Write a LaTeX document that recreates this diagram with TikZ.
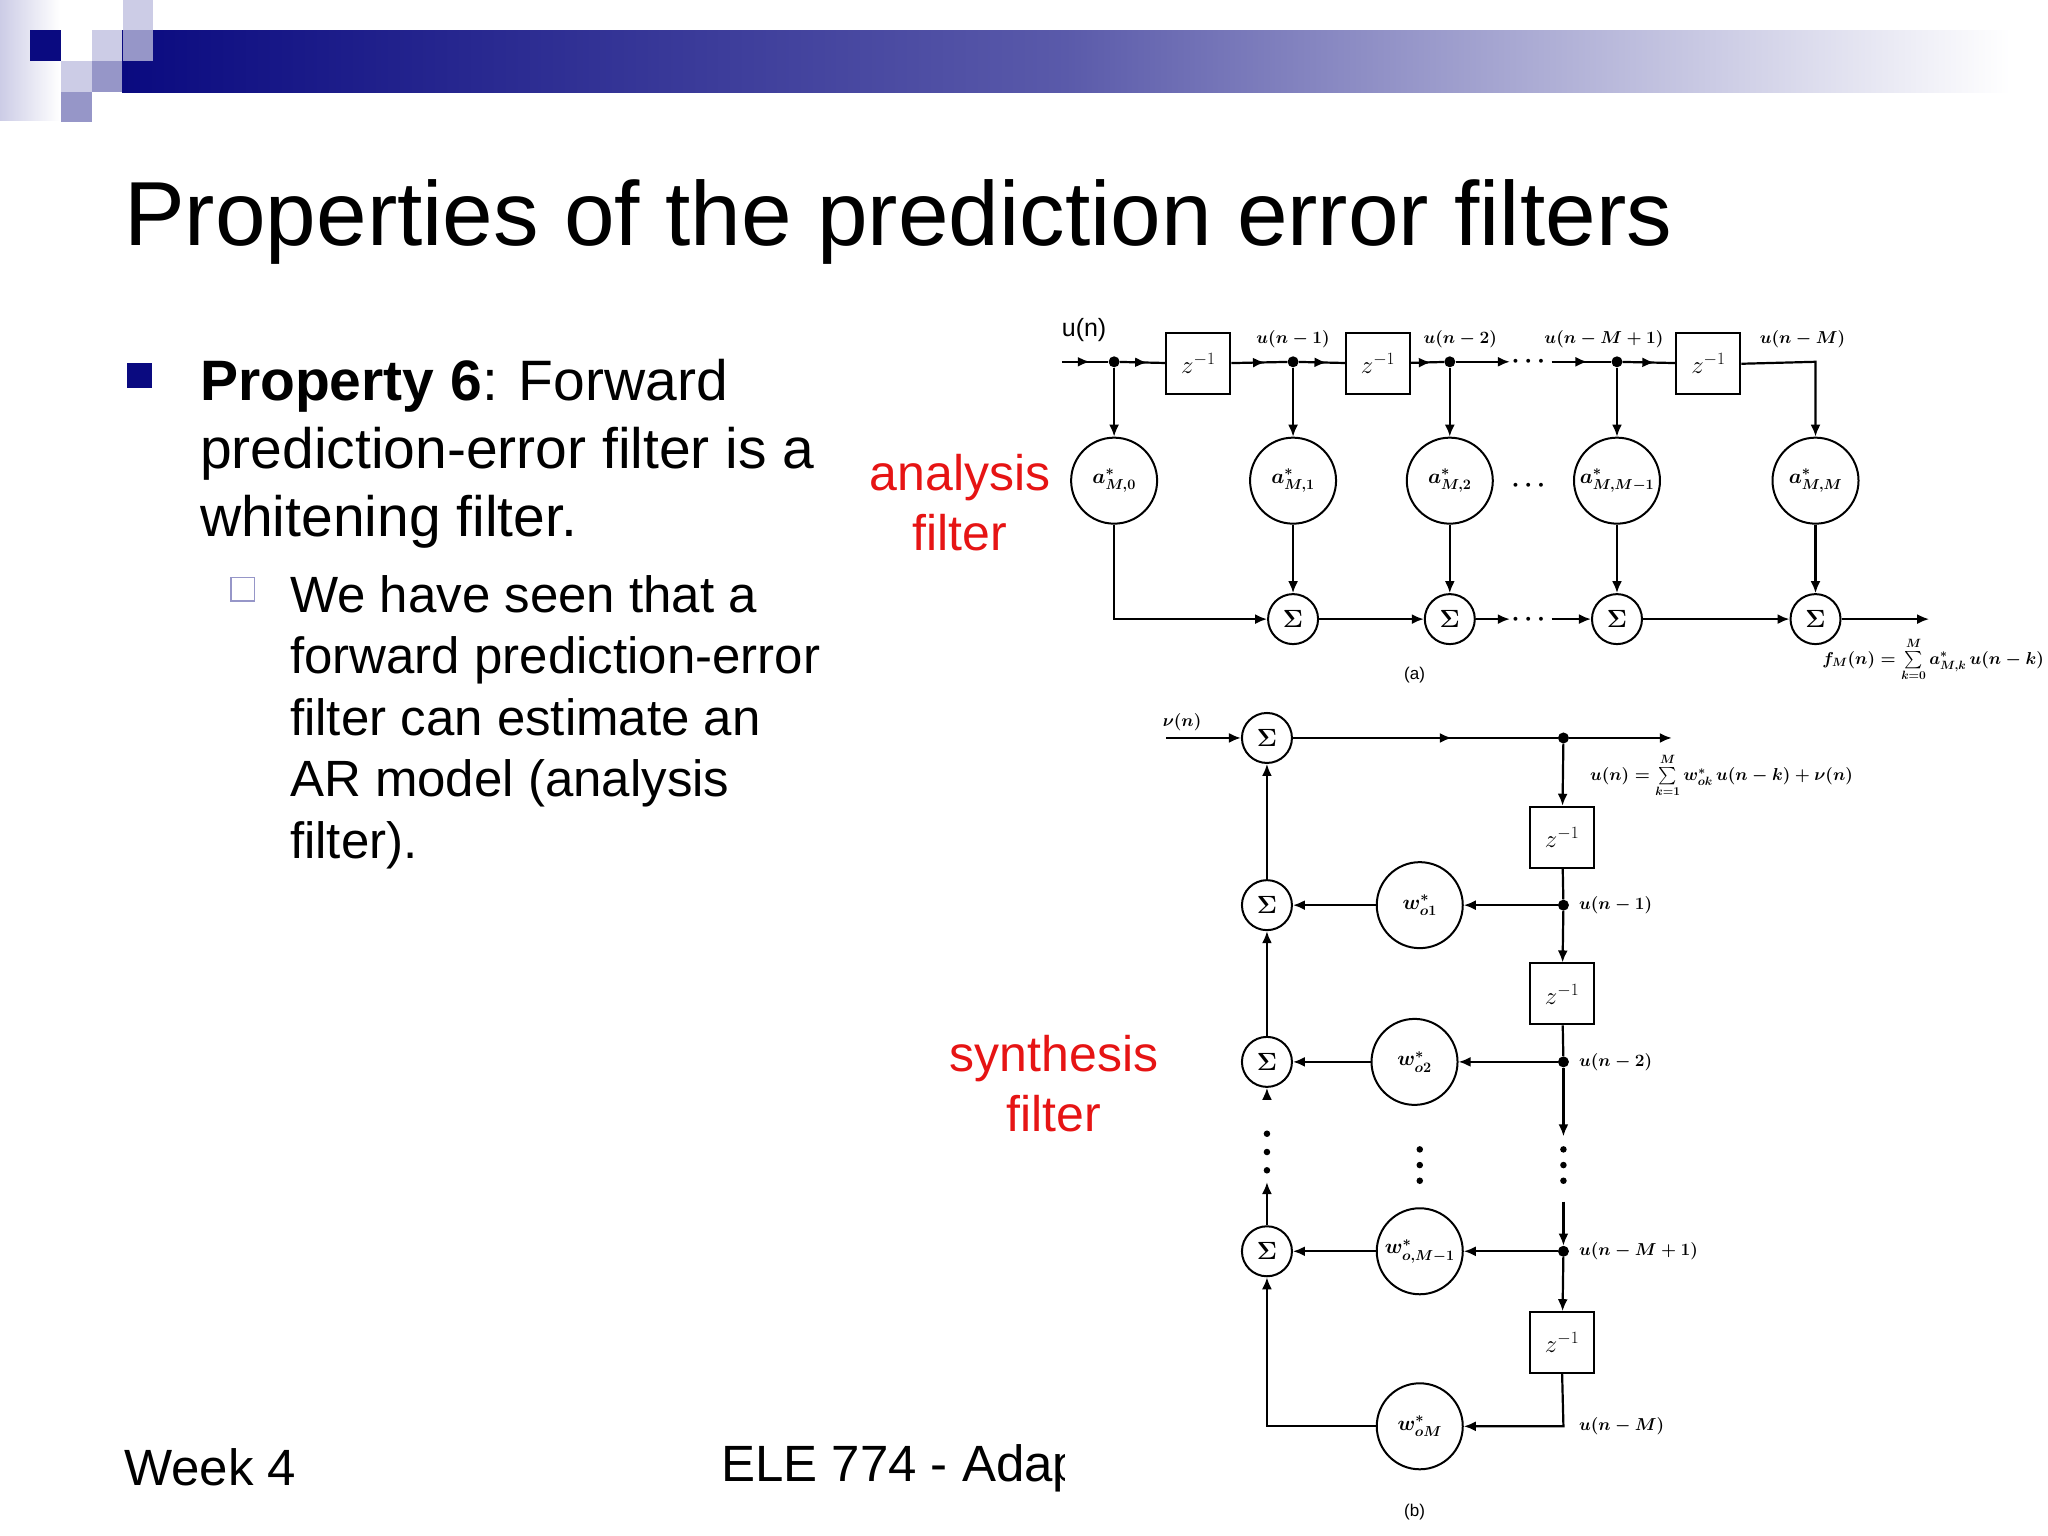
\documentclass[tikz,border=0pt]{standalone}
\usepackage{fontspec}
\usepackage{amsmath}
\setmainfont{Liberation Sans}
\usetikzlibrary{arrows.meta,decorations.markings}
\definecolor{navy}{RGB}{10,10,128}
\definecolor{navymid}{RGB}{90,90,170}
\definecolor{lav}{RGB}{204,204,230}
\definecolor{lavm}{RGB}{150,150,200}
\definecolor{redlab}{RGB}{230,20,20}
\tikzset{
 arr/.style={-{Latex[length=12pt,width=10pt]},line width=2.2pt},
 ln/.style={line width=2.2pt},
 midarr/.style={line width=2.2pt,postaction={decorate},decoration={markings,mark=at position 0.6 with {\arrow{Latex[length=12pt,width=10pt]}}}},
 dotn/.style={circle,fill,inner sep=0pt,minimum size=11pt},
 delay/.style={draw,line width=2pt,minimum width=64pt,minimum height=61pt,font=\fontsize{25}{25}\selectfont},
 coef/.style={draw,circle,line width=2pt,minimum size=86pt,inner sep=0pt,font=\fontsize{20}{20}\selectfont},
 sumn/.style={draw,circle,line width=2pt,minimum size=50pt,inner sep=0pt,font=\fontsize{38}{38}\selectfont},
 lab/.style={font=\fontsize{19}{19}\selectfont,inner sep=1pt},
 redl/.style={text=redlab,align=center,font=\fontsize{50}{60}\selectfont},
 body/.style={anchor=base west,inner sep=0pt,font=\fontsize{57}{57}\selectfont},
 sub/.style={anchor=base west,inner sep=0pt,font=\fontsize{51}{51}\selectfont},
}
\begin{document}
\begin{tikzpicture}[x=1.306pt,y=-1.306pt]
\useasboundingbox (0,0) rectangle (1568,1176);
% banner (original pixel units)
\begin{scope}[x=1pt,y=-1pt]
 \shade[left color=lav,right color=white] (0,0) rectangle (60,120);
 \shade[left color=navy,right color=white,middle color=navymid] (122,30) rectangle (2010,92);
 \fill[navy] (30,30) rectangle (61,61);
 \fill[lav] (123,0) rectangle (153,30);
 \fill[lav] (92,30) rectangle (122,61);
 \fill[lavm] (123,30) rectangle (153,61);
 \fill[lav] (61,61) rectangle (92,92);
 \fill[lavm] (92,61) rectangle (122,92);
 \fill[lavm] (61,92) rectangle (92,122);
\end{scope}
% title
\node[anchor=base west,inner sep=0pt,font=\fontsize{91}{91}\selectfont] (title) at (95,188) {Properties of the prediction error filters};
% bullets
\fill[navy] (97,278) rectangle (116,297);
\node[body] (p1) at (153,307) {\textbf{Property 6}: Forward};
\node[body] (p2) at (153,359) {prediction-error filter is a};
\node[body] (p3) at (153,411) {whitening filter.};
\draw[lavm,line width=1.5pt] (177,442) rectangle (195,460);
\node[sub] (q1) at (222,469) {We have seen that a};
\node[sub] (q2) at (222,516) {forward prediction-error};
\node[sub] (q3) at (222,563) {filter can estimate an};
\node[sub] (q4) at (222,610) {AR model (analysis};
\node[sub] (q5) at (222,657) {filter).};
% footer
\node[anchor=base west,inner sep=0pt,font=\fontsize{51}{51}\selectfont] (week) at (95,1137) {Week 4};
\begin{scope}
 \clip (500,1080) rectangle (815,1176);
 \node[anchor=base west,inner sep=0pt,font=\fontsize{51}{51}\selectfont] (ele) at (552,1134) {ELE 774 - Adaptive};
\end{scope}
% red labels
\node[redl] (an) at (735,385) {analysis\\filter};
\node[redl] (sy) at (807,830) {synthesis\\filter};
% ---------- (a)
\node[font=\fontsize{25}{25}\selectfont\rmfamily,inner sep=0pt] (un) at (830,253) {u(n)};
\coordinate (in) at (813,277);
\node[dotn] (d0) at (853,277) {};
\node[delay] (z1) at (917.5,278.5) {$z^{-1}$};
\node[dotn] (d1) at (990,277) {};
\node[delay] (z2) at (1055,278.5) {$z^{-1}$};
\node[dotn] (d2) at (1110,277) {};
\coordinate (e2) at (1156,277);
\node[font=\fontsize{28}{28}\selectfont] (dd1) at (1172,277) {$\boldsymbol{\cdots}$};
\coordinate (s3) at (1188,277);
\node[dotn] (d3) at (1238,277) {};
\node[delay] (z3) at (1308,278.5) {$z^{-1}$};
\coordinate (cr) at (1390,277);
\draw[midarr] (in) -- (d0);
\draw[midarr] (d0) -- (z1);
\draw[midarr] (z1) -- (d1);
\draw[midarr] (d1) -- (z2);
\draw[midarr] (z2) -- (d2);
\draw[arr] (d2) -- (e2);
\draw[midarr] (s3) -- (d3);
\draw[midarr] (d3) -- (z3);
\node[lab] at (990,260) {$\boldsymbol{u(n-1)}$};
\node[lab] at (1118,260) {$\boldsymbol{u(n-2)}$};
\node[lab] at (1228,260) {$\boldsymbol{u(n-M+1)}$};
\node[lab] at (1380,260) {$\boldsymbol{u(n-M)}$};
\node[coef] (c0) at (853,368) {$\boldsymbol{a^*_{M,0}}$};
\node[coef] (c1) at (990,368) {$\boldsymbol{a^*_{M,1}}$};
\node[coef] (c2) at (1110,368) {$\boldsymbol{a^*_{M,2}}$};
\node[coef] (c3) at (1238,368) {$\boldsymbol{a^*_{M,M-1}}$};
\node[coef] (c4) at (1390,368) {$\boldsymbol{a^*_{M,M}}$};
\node[font=\fontsize{28}{28}\selectfont] (dd2) at (1172,372) {$\boldsymbol{\cdots}$};
\draw[arr] (z3.east) -- (cr) -- (c4);
\foreach \i in {0,1,2,3} \draw[arr] (d\i) -- (c\i);
\node[sumn] (S1) at (990,474) {$\boldsymbol{\Sigma}$};
\node[sumn] (S2) at (1110,474) {$\boldsymbol{\Sigma}$};
\node[sumn] (S3) at (1238,474) {$\boldsymbol{\Sigma}$};
\node[sumn] (S4) at (1390,474) {$\boldsymbol{\Sigma}$};
\foreach \i in {1,2,3,4} \draw[arr] (c\i) -- (S\i);
\coordinate (cb) at (853,474);
\draw[arr] (c0) -- (cb) -- (S1);
\draw[arr] (S1) -- (S2);
\coordinate (e3) at (1156,474);
\coordinate (s4) at (1188,474);
\draw[arr] (S2) -- (e3);
\node[font=\fontsize{28}{28}\selectfont] (dd3) at (1172,474) {$\boldsymbol{\cdots}$};
\draw[arr] (s4) -- (S3);
\draw[arr] (S3) -- (S4);
\coordinate (out) at (1477,474);
\draw[arr] (S4) -- (out);
\node[lab,font=\fontsize{17}{17}\selectfont] (fm) at (1480,505) {$\boldsymbol{f_M(n)=\sum\limits_{k=0}^{M} a^*_{M,k}\,u(n-k)}$};
\node[lab,font=\fontsize{17}{17}\selectfont\rmfamily] (la) at (1083,517) {(a)};
% ---------- (b)
\node[sumn] (T0) at (970,565) {$\boldsymbol{\Sigma}$};
\node[lab,font=\fontsize{18}{18}\selectfont] (nu) at (905,553) {$\boldsymbol{\nu(n)}$};
\coordinate (nin) at (893,565);
\draw[arr] (nin) -- (T0);
\node[dotn] (b0) at (1197,565) {};
\coordinate (bout) at (1280,565);
\draw[midarr] (T0) -- (b0);
\draw[arr] (b0) -- (bout);
\node[lab,font=\fontsize{18}{18}\selectfont] (unf) at (1318,594) {$\boldsymbol{u(n)=\sum\limits_{k=1}^{M} w^*_{ok}\,u(n-k)+\nu(n)}$};
\node[delay] (y1) at (1196,641) {$z^{-1}$};
\node[dotn] (b1) at (1197,693) {};
\node[delay] (y2) at (1196,761) {$z^{-1}$};
\node[dotn] (b2) at (1197,813) {};
\coordinate (b2e) at (1197,870);
\coordinate (b3s) at (1197,920);
\node[dotn] (b3) at (1197,958) {};
\node[delay] (y3) at (1196,1028) {$z^{-1}$};
\coordinate (b4) at (1197,1092);
\draw[arr] (b0) -- (y1);
\draw[ln] (y1) -- (b1);
\draw[arr] (b1) -- (y2);
\draw[ln] (y2) -- (b2);
\draw[arr] (b2) -- (b2e);
\draw[arr] (b3s) -- (b3);
\draw[arr] (b3) -- (y3);
\node[coef] (w1) at (1087,693) {$\boldsymbol{w^*_{o1}}$};
\node[coef] (w2) at (1083,813) {$\boldsymbol{w^*_{o2}}$};
\node[coef] (w3) at (1087,958) {$\boldsymbol{w^*_{o,M-1}}$};
\node[coef] (w4) at (1087,1092) {$\boldsymbol{w^*_{oM}}$};
\node[sumn] (T1) at (970,693) {$\boldsymbol{\Sigma}$};
\node[sumn] (T2) at (970,813) {$\boldsymbol{\Sigma}$};
\node[sumn] (T3) at (970,958) {$\boldsymbol{\Sigma}$};
\draw[arr] (b1) -- (w1); \draw[arr] (w1) -- (T1);
\draw[arr] (b2) -- (w2); \draw[arr] (w2) -- (T2);
\draw[arr] (b3) -- (w3); \draw[arr] (w3) -- (T3);
\draw[arr] (y3.south) -- (b4) -- (w4);
\coordinate (lc) at (970,1092);
\draw[arr] (w4) -- (lc) -- (T3);
\draw[arr] (T1) -- (T0);
\draw[arr] (T2) -- (T1);
\coordinate (t2e) at (970,842);
\coordinate (t3s) at (970,905);
\draw[arr] (t2e) -- (T2);
\draw[arr] (T3) -- (t3s);
\foreach \yy in {868,882,896} \fill (970,\yy) circle (2.5);
\foreach \yy in {880,892,904} \fill (1087,\yy) circle (2.5);
\foreach \yy in {880,892,904} \fill (1197,\yy) circle (2.5);
\node[lab,anchor=west] at (1208,693) {$\boldsymbol{u(n-1)}$};
\node[lab,anchor=west] at (1208,813) {$\boldsymbol{u(n-2)}$};
\node[lab,anchor=west] at (1208,958) {$\boldsymbol{u(n-M+1)}$};
\node[lab,anchor=west] at (1208,1092) {$\boldsymbol{u(n-M)}$};
\node[lab,font=\fontsize{17}{17}\selectfont\rmfamily] (lb) at (1083,1158) {(b)};
\end{tikzpicture}
\end{document}
